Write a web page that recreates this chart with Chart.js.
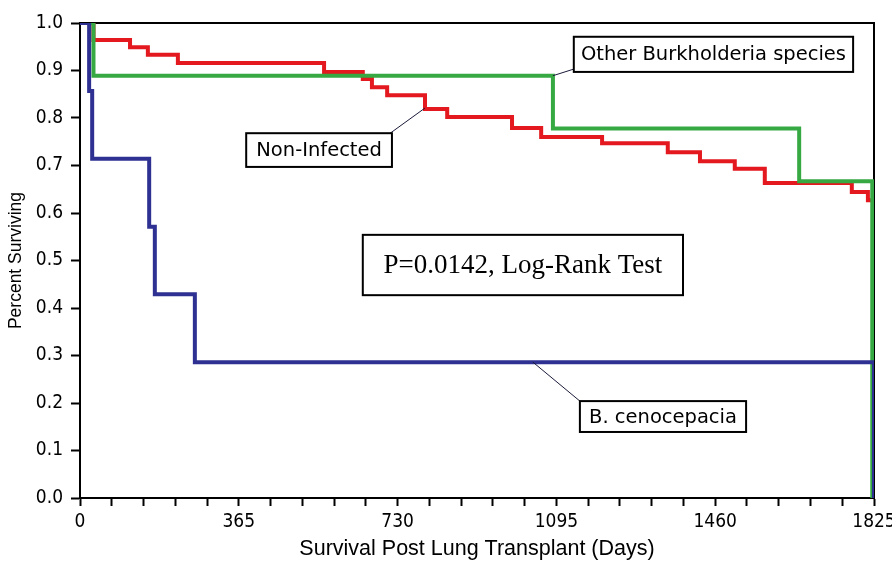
<!DOCTYPE html>
<html>
<head>
<meta charset="utf-8">
<script src="https://cdn.jsdelivr.net/npm/chart.js@4/dist/chart.umd.min.js"></script>
<style>
html,body{margin:0;padding:0;background:#fff;}
canvas{display:block;}
</style>
</head>
<body>
<canvas id="c" width="892" height="562"></canvas>
<script>
// ---- Data ----
const nonInfectedDays = [0, 31, 115, 156, 225, 561, 650, 671, 706, 793, 844, 993, 1060, 1200, 1351, 1425, 1505, 1574, 1774, 1811, 1825];
const nonInfectedSurv = [1.0, 0.964, 0.949, 0.933, 0.916, 0.897, 0.882, 0.865, 0.848, 0.819, 0.802, 0.779, 0.760, 0.747, 0.728, 0.709, 0.693, 0.663, 0.644, 0.627, 0.627];

const otherBurkDays = [0, 31, 1087, 1653, 1821];
const otherBurkSurv = [1.0, 0.889, 0.778, 0.667, 0.0];

const cenocepaciaDays = [0, 21, 28, 159, 172, 264, 1825];
const cenocepaciaSurv = [1.0, 0.857, 0.714, 0.571, 0.429, 0.286, 0.0];

const xTickLabels = [0, 365, 730, 1095, 1460, 1825];
const xMinorPerMajor = 5;
const yTickLabels = [0.0, 0.1, 0.2, 0.3, 0.4, 0.5, 0.6, 0.7, 0.8, 0.9, 1.0];

const seriesNames = ['B. cenocepacia', 'Other Burkholderia species', 'Non-Infected'];
const pValueText = 'P=0.0142, Log-Rank Test';

// ---- helpers ----
function pts(days, vals) { return days.map((d, i) => ({ x: d, y: vals[i] })); }

const xTickValues = [];
for (let i = 0; i < xTickLabels.length - 1; i++) {
  const a = xTickLabels[i], b = xTickLabels[i + 1];
  for (let k = 0; k < xMinorPerMajor; k++) xTickValues.push(a + (b - a) * k / xMinorPerMajor);
}
xTickValues.push(xTickLabels[xTickLabels.length - 1]);

const tickFont = { family: '"Liberation Sans Narrow", "DejaVu Sans Condensed", "Liberation Sans"', size: 19 };
const noteFont = '19.5px "DejaVu Sans"';

// Annotation boxes (placed in data units: [dayLeft, valueTop, dayRight, valueBottom])
const notes = [
  { text: seriesNames[1], box: [1135, 0.971, 1777, 0.897], from: [1087, 0.889], to: [1135, 0.903], font: noteFont },
  { text: seriesNames[2], box: [382, 0.768, 717, 0.697], from: [793, 0.821], to: [713, 0.768], font: noteFont },
  { text: pValueText, box: [650, 0.554, 1386, 0.427], font: '27px "Liberation Serif"' },
  { text: seriesNames[0], box: [1149, 0.204, 1531, 0.139], from: [1041, 0.286], to: [1149, 0.204], font: noteFont }
];

const framePlugin = {
  id: 'frame',
  beforeDatasetsDraw(chart) {
    const { ctx, chartArea: a } = chart;
    ctx.save();
    ctx.strokeStyle = '#000';
    ctx.lineWidth = 2;
    ctx.beginPath();
    ctx.moveTo(a.left, a.top);
    ctx.lineTo(a.right, a.top);
    ctx.lineTo(a.right, a.bottom);
    ctx.stroke();
    ctx.restore();
  }
};

const notesPlugin = {
  id: 'notes',
  afterDraw(chart) {
    const { ctx } = chart;
    const xs = chart.scales.x, ys = chart.scales.y;
    ctx.save();
    notes.forEach(n => {
      if (n.from) {
        ctx.strokeStyle = '#1a1a3a';
        ctx.lineWidth = 1;
        ctx.beginPath();
        ctx.moveTo(xs.getPixelForValue(n.from[0]), ys.getPixelForValue(n.from[1]));
        ctx.lineTo(xs.getPixelForValue(n.to[0]), ys.getPixelForValue(n.to[1]));
        ctx.stroke();
      }
      const x1 = xs.getPixelForValue(n.box[0]), y1 = ys.getPixelForValue(n.box[1]);
      const x2 = xs.getPixelForValue(n.box[2]), y2 = ys.getPixelForValue(n.box[3]);
      ctx.fillStyle = '#fff';
      ctx.fillRect(x1, y1, x2 - x1, y2 - y1);
      ctx.strokeStyle = '#000';
      ctx.lineWidth = 2;
      ctx.strokeRect(x1, y1, x2 - x1, y2 - y1);
      ctx.fillStyle = '#000';
      ctx.font = n.font;
      ctx.textAlign = 'center';
      ctx.textBaseline = 'middle';
      ctx.fillText(n.text, (x1 + x2) / 2, (y1 + y2) / 2 + 1);
    });
    ctx.restore();
  }
};

new Chart(document.getElementById('c'), {
  type: 'line',
  data: {
    datasets: [
      { label: seriesNames[0], data: pts(cenocepaciaDays, cenocepaciaSurv), borderColor: '#2e3192', stepped: true },
      { label: seriesNames[1], data: pts(otherBurkDays, otherBurkSurv), borderColor: '#36a943', stepped: true },
      { label: seriesNames[2], data: pts(nonInfectedDays, nonInfectedSurv), borderColor: '#e3191f', stepped: true }
    ]
  },
  options: {
    responsive: false,
    animation: false,
    devicePixelRatio: 1,
    layout: { padding: { top: 23, right: 18, left: 0, bottom: 0 } },
    plugins: { legend: { display: false }, tooltip: { enabled: false } },
    elements: { point: { radius: 0 }, line: { borderWidth: 4, tension: 0, fill: false } },
    scales: {
      x: {
        type: 'linear', min: 0, max: 1825,
        afterBuildTicks(s) { s.ticks = xTickValues.map(v => ({ value: v })); },
        afterFit(s) { s.height = 64; s.paddingLeft = 0; s.paddingRight = 0; },
        ticks: {
          autoSkip: false, maxRotation: 0, minRotation: 0, padding: 5, color: '#000',
          font: tickFont,
          callback: v => (xTickLabels.includes(v) ? String(v) : '')
        },
        grid: { drawOnChartArea: false, drawTicks: true, tickLength: 8, tickColor: '#000', tickWidth: 2 },
        border: { display: true, color: '#000', width: 2 },
        title: {
          display: true, text: 'Survival Post Lung Transplant (Days)', color: '#000',
          font: { family: 'Liberation Sans', size: 21.5 }, padding: { top: 2, bottom: 0 }
        }
      },
      y: {
        type: 'linear', min: 0, max: 1,
        afterBuildTicks(s) { s.ticks = yTickLabels.map(v => ({ value: v })); },
        afterFit(s) { s.width = 80; s.paddingTop = 0; s.paddingBottom = 0; },
        ticks: {
          padding: 8, color: '#000', font: tickFont,
          callback: v => Number(v).toFixed(1)
        },
        grid: { drawOnChartArea: false, drawTicks: true, tickLength: 9, tickColor: '#000', tickWidth: 2 },
        border: { display: true, color: '#000', width: 2 },
        title: {
          display: true, text: 'Percent Surviving', color: '#000',
          font: { family: 'Liberation Sans', size: 17.5 }, padding: { top: 6, bottom: 0 }
        }
      }
    }
  },
  plugins: [framePlugin, notesPlugin]
});
</script>
</body>
</html>
